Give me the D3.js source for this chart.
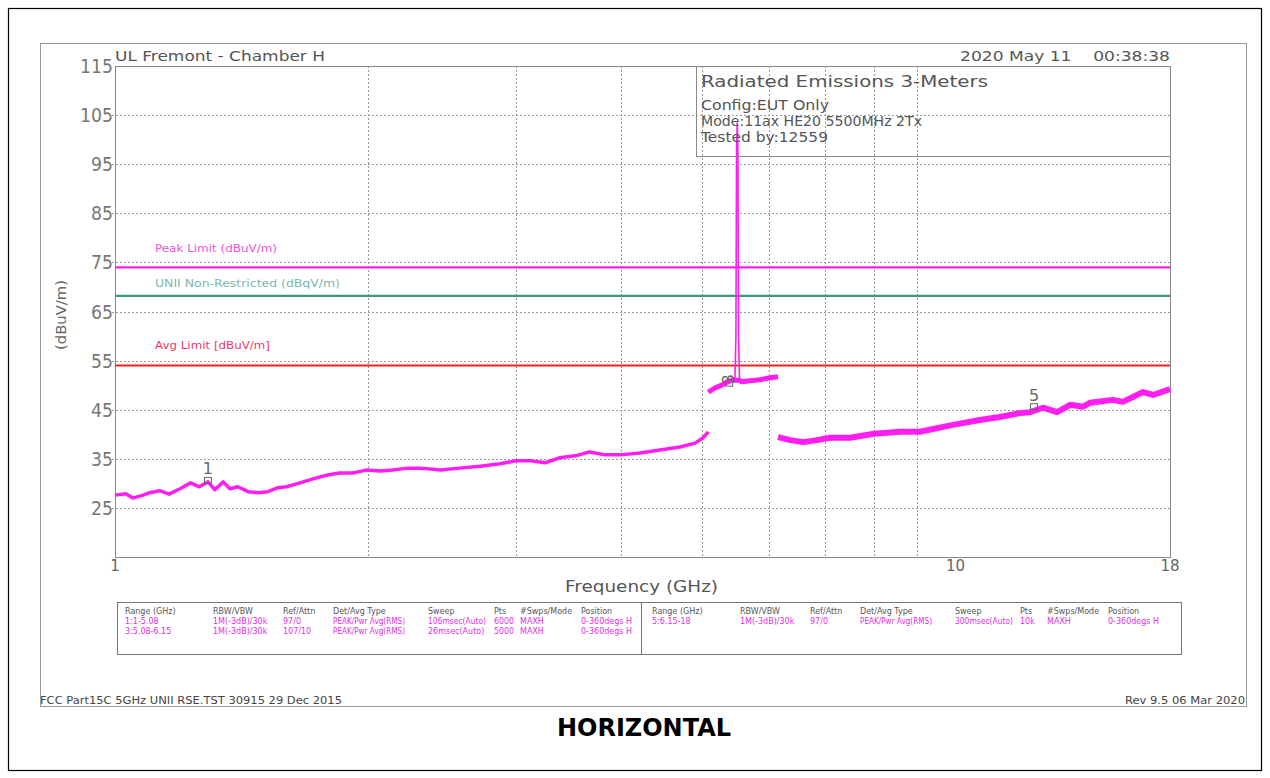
<!DOCTYPE html>
<html>
<head>
<meta charset="utf-8">
<script src="https://cdn.jsdelivr.net/npm/d3@7"></script>
<style>
  body { margin: 0; background: #fff; }
  text { font-family: "DejaVu Sans", sans-serif; }
</style>
</head>
<body>
<div id="chart"></div>
<script>
// trace data: [frequency GHz, level dBuV/m]
var seg1 = [[1.00,27.6],[1.03,27.9],[1.05,27.0],[1.08,27.6],[1.10,28.1],[1.13,28.5],[1.16,27.8],[1.195,28.9],[1.23,30.1],[1.26,29.3],
  [1.29,30.3],[1.315,28.7],[1.345,30.3],[1.37,28.9],[1.40,29.3],[1.44,28.3],[1.48,28.1],[1.52,28.3],[1.56,29.1],
  [1.60,29.3],[1.66,30.1],[1.72,30.9],[1.79,31.7],[1.85,32.1],[1.92,32.1],[1.99,32.7],[2.07,32.5],[2.14,32.7],
  [2.23,33.1],[2.31,33.1],[2.44,32.7],[2.57,33.1],[2.72,33.5],[2.87,34.0],[3.00,34.6],[3.12,34.6],[3.25,34.2],
  [3.38,35.2],[3.53,35.6],[3.67,36.4],[3.83,35.8],[3.99,35.8],[4.21,36.2],[4.45,36.8],[4.70,37.4],[4.90,38.2],
  [5.01,39.3],[5.08,40.5]];
var seg2 = [[5.08,48.6],[5.17,49.4],[5.27,50.0],[5.38,50.8],[5.44,51.1],[5.47,51.0],[5.53,51.0],
  [5.57,50.7],[5.70,50.9],[5.85,51.1],[6.02,51.5],[6.15,51.7]];
var peak = [[5.465,51.0],[5.48,60],[5.49,98],[5.50,103.4],[5.51,98],[5.52,60],[5.535,51.0]];
var seg3 = [[6.15,39.4],[6.36,38.8],[6.59,38.4],[6.84,38.8],[7.09,39.3],[7.49,39.3],[8.0,40.1],[8.59,40.5],
  [9.07,40.5],[9.93,41.9],[10.69,42.9],[11.29,43.5],[11.93,44.3],[12.27,44.5],[12.71,45.4],[13.21,44.5],
  [13.69,46.0],[14.18,45.6],[14.45,46.4],[15.39,47.0],[15.82,46.6],[16.72,48.6],[17.18,48.0],[17.85,49.0],[18.0,49.2]];

var limits = [
  { name: "Peak Limit (dBuV/m)", value: 74, color: "#ff1ee8", labelColor: "#e858d8" },
  { name: "UNII Non-Restricted (dBqV/m)", value: 68.2, color: "#3a9a78", labelColor: "#7ab8b0" },
  { name: "Avg Limit [dBuV/m]", value: 54, color: "#ff2020", labelColor: "#f03a6a" }
];
var markers = [{ id: "1", f: 1.29, v: 30.6 }, { id: "3", f: 5.38, v: 50.4 }, { id: "5", f: 12.4, v: 45.6 }];

var yTicks = [115, 105, 95, 85, 75, 65, 55, 45, 35, 25];
var xGrid = [2, 3, 4, 5, 6, 7, 8, 9];
var xLabels = [1, 10, 18];

var tableHead = ["Range (GHz)", "RBW/VBW", "Ref/Attn", "Det/Avg Type", "Sweep", "Pts", "#Swps/Mode", "Position"];
var tableLeft = [
  ["1:1-5.08", "1M(-3dB)/30k", "97/0", "PEAK/Pwr Avg(RMS)", "106msec(Auto)", "6000", "MAXH", "0-360degs H"],
  ["3:5.08-6.15", "1M(-3dB)/30k", "107/10", "PEAK/Pwr Avg(RMS)", "26msec(Auto)", "5000", "MAXH", "0-360degs H"]
];
var tableRight = [
  ["5:6.15-18", "1M(-3dB)/30k", "97/0", "PEAK/Pwr Avg(RMS)", "300msec(Auto)", "10k", "MAXH", "0-360degs H"]
];

var W = 1270, H = 778;
var plot = { left: 115, right: 1170, top: 66, bottom: 557 };

var svg = d3.select("#chart").append("svg")
  .attr("width", W).attr("height", H);

var x = d3.scaleLog().domain([1, 18]).range([plot.left, plot.right]);
var y = d3.scaleLinear().domain([15, 115]).range([plot.bottom, plot.top]);

function txt(px, py, s, o) {
  o = o || {};
  var t = svg.append("text").attr("x", px).attr("y", py).text(s)
    .attr("font-size", o.size || 12)
    .attr("fill", o.color || "#555")
    .attr("text-anchor", o.anchor || "start");
  if (o.len) t.attr("textLength", o.len).attr("lengthAdjust", "spacingAndGlyphs");
  if (o.weight) t.attr("font-weight", o.weight);
  if (o.family) t.attr("font-family", o.family);
  return t;
}

// outer frames
svg.append("rect").attr("x", 8.5).attr("y", 8.5).attr("width", 1253).attr("height", 762)
  .attr("fill", "none").attr("stroke", "#000").attr("stroke-width", 1.2);
svg.append("rect").attr("x", 40.5).attr("y", 43.5).attr("width", 1206).attr("height", 663)
  .attr("fill", "none").attr("stroke", "#999");

// grid
var grid = svg.append("g").attr("stroke", "#999").attr("stroke-dasharray", "2,2").attr("stroke-width", 1);
yTicks.slice(1).forEach(function (v) {
  grid.append("line").attr("x1", plot.left - 3).attr("x2", plot.right)
    .attr("y1", Math.round(y(v)) + 0.5).attr("y2", Math.round(y(v)) + 0.5);
});
xGrid.forEach(function (f) {
  grid.append("line").attr("y1", plot.top).attr("y2", plot.bottom)
    .attr("x1", Math.round(x(f)) + 0.5).attr("x2", Math.round(x(f)) + 0.5);
});

// plot frame
svg.append("rect").attr("x", plot.left + 0.5).attr("y", plot.top + 0.5)
  .attr("width", plot.right - plot.left).attr("height", plot.bottom - plot.top)
  .attr("fill", "none").attr("stroke", "#888");

// y tick labels
yTicks.forEach(function (v) {
  txt(plot.left - 2, y(v) + 7, v, { size: 19, anchor: "end", color: "#777", len: v > 99 ? 33 : 22 });
});
// x tick labels
xLabels.forEach(function (f) {
  txt(x(f), 571, f, { size: 15, anchor: "middle", color: "#666" });
});
txt(565, 592, "Frequency (GHz)", { size: 15, color: "#555", len: 153 });
txt(0, 0, "(dBuV/m)", { size: 14, anchor: "middle", color: "#666", len: 70 })
  .attr("transform", "translate(66,315) rotate(-90)");

// header
txt(115, 61, "UL Fremont - Chamber H", { size: 14, color: "#555", len: 210 });
txt(1170, 61, "2020 May 11    00:38:38", { size: 14, color: "#555", anchor: "end", len: 210 }).style("white-space", "pre");

// limit lines
limits.forEach(function (l, i) {
  svg.append("line").attr("x1", plot.left).attr("x2", plot.right)
    .attr("y1", y(l.value)).attr("y2", y(l.value))
    .attr("stroke", l.color).attr("stroke-width", 2.2);
});
txt(155, 252, limits[0].name, { size: 10, color: limits[0].labelColor, len: 122 });
txt(155, 287, limits[1].name, { size: 10, color: limits[1].labelColor, len: 185 });
txt(155, 349, limits[2].name, { size: 10, color: limits[2].labelColor, len: 115 });

// trace
var line = d3.line()
  .x(function (d) { return x(d[0]); })
  .y(function (d) { return y(d[1]); });
[[seg1, 3.5], [seg2, 5], [seg3, 6], [peak, 1.6]].forEach(function (s) {
  svg.append("path").datum(s[0]).attr("d", line)
    .attr("fill", "none").attr("stroke", "#ff1ef0")
    .attr("stroke-width", s[1]).attr("stroke-linejoin", "round");
});

// info box
svg.append("rect").attr("x", 696.5).attr("y", 66.5).attr("width", 474).attr("height", 90)
  .attr("fill", "none").attr("stroke", "#888");
txt(701, 87, "Radiated Emissions 3-Meters", { size: 15, color: "#555", len: 287 });
txt(701, 110, "Config:EUT Only", { size: 14, color: "#555", len: 128 });
txt(701, 126, "Mode:11ax HE20 5500MHz 2Tx", { size: 14, color: "#555", len: 221 });
txt(701, 142, "Tested by:12559", { size: 14, color: "#555", len: 127 });

// markers
markers.forEach(function (m) {
  var mx = x(m.f), my = y(m.v);
  svg.append("rect").attr("x", mx - 3.5).attr("y", my - 3).attr("width", 7).attr("height", 6)
    .attr("fill", "none").attr("stroke", "#666").attr("stroke-width", 1);
  if (m.id === "3") {
    txt(0, 0, m.id, { size: 16, anchor: "middle", color: "#666" })
      .attr("transform", "translate(" + (mx + 5) + "," + (my - 4) + ") rotate(-90)");
  } else {
    txt(mx, my - 6, m.id, { size: 16, anchor: "middle", color: "#666" });
  }
});

// settings table
svg.append("rect").attr("x", 117.5).attr("y", 602.5).attr("width", 1064).attr("height", 52)
  .attr("fill", "none").attr("stroke", "#777");
svg.append("line").attr("x1", 641.5).attr("x2", 641.5).attr("y1", 602).attr("y2", 655).attr("stroke", "#777");
var colL = [125, 213, 283, 333, 428, 494, 520, 581];
var colR = [652, 740, 810, 860, 955, 1020, 1047, 1108];
var colMax = [52, 60, 36, 72, 58, 20, 48, 56];
[[colL, tableLeft], [colR, tableRight]].forEach(function (t) {
  tableHead.forEach(function (h, i) { txt(t[0][i], 614, h, { size: 8, color: "#555" }); });
  t[1].forEach(function (row, r) {
    row.forEach(function (c, i) {
      var el = txt(t[0][i], 624 + r * 9.5, c, { size: 8, color: "#e02ee0" });
      if (el.node().getComputedTextLength() > colMax[i]) {
        el.attr("textLength", colMax[i]).attr("lengthAdjust", "spacingAndGlyphs");
      }
    });
  });
});

// footer
txt(40, 704, "FCC Part15C 5GHz UNII RSE.TST 30915 29 Dec 2015", { size: 10, color: "#444", len: 302 });
txt(1245, 704, "Rev 9.5 06 Mar 2020", { size: 10, color: "#444", anchor: "end", len: 120 });
txt(644, 736, "HORIZONTAL", { size: 24, color: "#000", anchor: "middle", weight: "bold", family: "Liberation Sans, Arial, sans-serif" });
</script>
</body>
</html>
